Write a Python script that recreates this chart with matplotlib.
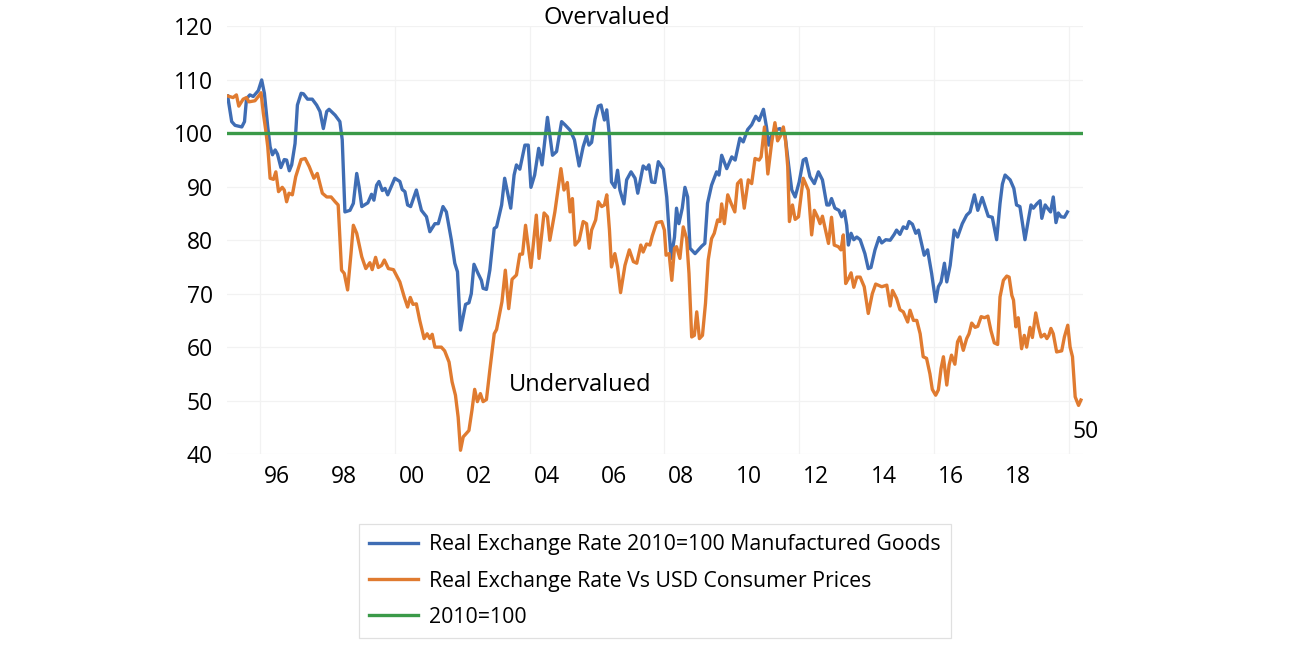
"""
Real exchange rate: manufactured goods vs consumer prices (2010=100)
"""

import matplotlib
matplotlib.use("Agg")
import matplotlib.pyplot as plt

# --- data (decimal year, index value) ---
manuf_t = [1995.04, 1995.16, 1995.26, 1995.46, 1995.54, 1995.6, 1995.7, 1995.8, 1995.95,
           1996.05, 1996.13, 1996.23, 1996.3, 1996.37, 1996.45, 1996.52, 1996.62, 1996.72,
           1996.79, 1996.87, 1996.94, 1997.04, 1997.11, 1997.22, 1997.29, 1997.41, 1997.55,
           1997.68, 1997.78, 1997.88, 1997.98, 1998.05, 1998.23, 1998.37, 1998.44, 1998.52,
           1998.67, 1998.77, 1998.87, 1998.94, 1999.02, 1999.2, 1999.31, 1999.38, 1999.46,
           1999.53, 1999.63, 1999.71, 1999.79, 1999.91, 2000.0, 2000.15, 2000.22, 2000.3,
           2000.38, 2000.47, 2000.64, 2000.79, 2000.94, 2001.04, 2001.19, 2001.29, 2001.43,
           2001.53, 2001.68, 2001.78, 2001.86, 2001.95, 2002.1, 2002.2, 2002.27, 2002.35,
           2002.47, 2002.57, 2002.62, 2002.72, 2002.82, 2002.95, 2003.02, 2003.17, 2003.26,
           2003.44, 2003.54, 2003.61, 2003.71, 2003.86, 2003.96, 2004.04, 2004.15, 2004.27,
           2004.37, 2004.53, 2004.68, 2004.8, 2004.95, 2005.05, 2005.2, 2005.33, 2005.47,
           2005.59, 2005.69, 2005.76, 2005.84, 2005.94, 2006.04, 2006.12, 2006.22, 2006.29,
           2006.37, 2006.43, 2006.53, 2006.61, 2006.68, 2006.8, 2006.88, 2007.01, 2007.13,
           2007.21, 2007.37, 2007.47, 2007.54, 2007.62, 2007.72, 2007.82, 2007.97, 2008.07,
           2008.14, 2008.2, 2008.3, 2008.36, 2008.43, 2008.53, 2008.61, 2008.69, 2008.76,
           2008.91, 2009.11, 2009.2, 2009.28, 2009.4, 2009.55, 2009.62, 2009.7, 2009.85,
           2010.0, 2010.1, 2010.24, 2010.34, 2010.47, 2010.59, 2010.71, 2010.81, 2010.94,
           2011.03, 2011.1, 2011.18, 2011.28, 2011.43, 2011.5, 2011.58, 2011.68, 2011.78,
           2011.88, 2012.0, 2012.12, 2012.2, 2012.32, 2012.45, 2012.57, 2012.69, 2012.82,
           2012.89, 2012.96, 2013.06, 2013.18, 2013.26, 2013.34, 2013.41, 2013.46, 2013.54,
           2013.62, 2013.71, 2013.81, 2013.95, 2014.05, 2014.13, 2014.25, 2014.37, 2014.45,
           2014.57, 2014.7, 2014.82, 2014.89, 2014.99, 2015.09, 2015.19, 2015.26, 2015.36,
           2015.46, 2015.54, 2015.63, 2015.71, 2015.81, 2015.93, 2016.05, 2016.13, 2016.21,
           2016.31, 2016.38, 2016.48, 2016.6, 2016.7, 2016.84, 2016.97, 2017.07, 2017.2,
           2017.3, 2017.43, 2017.61, 2017.73, 2017.86, 2017.96, 2018.03, 2018.11, 2018.26,
           2018.37, 2018.45, 2018.55, 2018.7, 2018.8, 2018.88, 2018.95, 2019.05, 2019.15,
           2019.2, 2019.3, 2019.37, 2019.46, 2019.54, 2019.62, 2019.69, 2019.77, 2019.87,
           2019.96]
manuf_v = [107, 102.2, 101.5, 101.2, 102.2, 106.5, 107.2, 106.9, 108,
           110, 107.5, 101.2, 97.5, 96, 96.9, 96.1, 93.6, 95.1,
           95, 93, 94.1, 98.1, 105.3, 107.5, 107.4, 106.4, 106.4,
           105.3, 104.1, 100.9, 104.1, 104.5, 103.4, 102.2, 98.8, 85.3,
           85.6, 86.9, 92.5, 90, 86.3, 87, 88.6, 87.5, 90.3,
           91, 89.3, 89.7, 88.5, 90.3, 91.6, 91, 89.5, 89.1,
           86.6, 86.3, 89.4, 85.6, 84.4, 81.6, 83.1, 83.1, 86.3,
           85.3, 80, 75.7, 74.1, 63.2, 68, 68.3, 70, 75.5,
           73.8, 72.5, 71, 70.8, 74.4, 82.2, 82.5, 86.6, 91.6,
           86, 92.2, 94.1, 93.3, 97.8, 97.8, 89.9, 92.2, 97.2,
           94.1, 103, 95.9, 96.6, 102.2, 101.6, 100.6, 98.8, 93.9,
           97.5, 99.5, 97.8, 98.3, 102.6, 105.1, 105.3, 102.5, 104.4,
           99.4, 90.9, 89.9, 93.1, 89.4, 86.8, 91.3, 92.8, 91.6,
           88.8, 93.9, 93.3, 94.1, 90.9, 90.8, 94.7, 93.3, 88.1,
           81.6, 76.6, 80.6, 86, 83.1, 86, 89.9, 88.1, 78.5,
           77.5, 78.9, 79.4, 86.9, 90.3, 92.8, 92.2, 95.9, 93.4,
           95.6, 95, 99.1, 98.4, 100.7, 101.6, 103.2, 102.4, 104.5,
           101.2, 97.8, 99.5, 100.6, 100.9, 100.3, 99.7, 94.4, 89.4,
           88.1, 90.9, 95, 95.3, 91.9, 90.6, 92.8, 91.3, 86.6,
           86.6, 87.8, 86, 85.6, 84.4, 85.5, 82.8, 79.1, 81.3,
           80.1, 80.6, 80.1, 77.5, 74.7, 74.9, 78.2, 80.5, 79.5,
           80.1, 80, 81.1, 81.9, 81.1, 82.5, 82.2, 83.5, 83,
           81.3, 81.9, 79.4, 77.2, 78.2, 73.8, 68.5, 71.3, 72.2,
           75.7, 72.2, 75.3, 81.9, 80.6, 83.1, 84.7, 85.3, 88.5,
           85.6, 88, 84.5, 84.3, 80.1, 86.9, 90.5, 92.2, 91.3,
           89.7, 86.6, 86.3, 80.1, 83.8, 86.6, 86, 86.8, 87.4,
           84.1, 86.6, 86, 85.3, 88.1, 83.3, 85.1, 84.4, 84.3,
           85.3]

cpi_t = [1995.04, 1995.2, 1995.3, 1995.37, 1995.5, 1995.6, 1995.67, 1995.85, 1995.95,
         1996.03, 1996.1, 1996.17, 1996.23, 1996.3, 1996.4, 1996.47, 1996.55, 1996.66,
         1996.72, 1996.79, 1996.86, 1996.96, 1997.06, 1997.22, 1997.34, 1997.46, 1997.6,
         1997.7, 1997.85, 1997.98, 1998.11, 1998.23, 1998.32, 1998.42, 1998.5, 1998.6,
         1998.7, 1998.77, 1998.87, 1999.02, 1999.14, 1999.26, 1999.33, 1999.43, 1999.51,
         1999.61, 1999.69, 1999.81, 1999.96, 2000.15, 2000.28, 2000.38, 2000.46, 2000.54,
         2000.64, 2000.74, 2000.87, 2000.96, 2001.04, 2001.11, 2001.19, 2001.38, 2001.48,
         2001.61, 2001.7, 2001.8, 2001.88, 2001.95, 2002.03, 2002.2, 2002.29, 2002.37,
         2002.45, 2002.54, 2002.62, 2002.72, 2002.82, 2002.95, 2003.02, 2003.18, 2003.28,
         2003.38, 2003.48, 2003.61, 2003.71, 2003.79, 2003.88, 2004.04, 2004.2, 2004.28,
         2004.43, 2004.53, 2004.6, 2004.75, 2004.93, 2005.02, 2005.12, 2005.2, 2005.27,
         2005.35, 2005.47, 2005.59, 2005.69, 2005.77, 2005.84, 2005.96, 2006.04, 2006.14,
         2006.22, 2006.29, 2006.37, 2006.43, 2006.53, 2006.61, 2006.7, 2006.83, 2006.96,
         2007.08, 2007.18, 2007.3, 2007.37, 2007.47, 2007.57, 2007.64, 2007.77, 2007.92,
         2008.0, 2008.05, 2008.14, 2008.22, 2008.3, 2008.36, 2008.46, 2008.56, 2008.66,
         2008.73, 2008.81, 2008.89, 2008.96, 2009.04, 2009.13, 2009.22, 2009.3, 2009.4,
         2009.48, 2009.58, 2009.65, 2009.7, 2009.78, 2009.88, 2009.98, 2010.09, 2010.17,
         2010.27, 2010.37, 2010.49, 2010.59, 2010.69, 2010.81, 2010.87, 2010.97, 2011.07,
         2011.18, 2011.28, 2011.36, 2011.46, 2011.53, 2011.6, 2011.66, 2011.71, 2011.8,
         2011.88, 2011.98, 2012.12, 2012.27, 2012.37, 2012.45, 2012.55, 2012.62, 2012.69,
         2012.77, 2012.87, 2012.96, 2013.04, 2013.16, 2013.24, 2013.31, 2013.38, 2013.46,
         2013.54, 2013.62, 2013.71, 2013.81, 2013.93, 2014.05, 2014.17, 2014.27, 2014.45,
         2014.6, 2014.7, 2014.77, 2014.89, 2014.99, 2015.09, 2015.22, 2015.29, 2015.39,
         2015.49, 2015.59, 2015.68, 2015.78, 2015.88, 2015.95, 2016.05, 2016.13, 2016.21,
         2016.28, 2016.38, 2016.45, 2016.52, 2016.62, 2016.7, 2016.77, 2016.87, 2016.97,
         2017.04, 2017.12, 2017.22, 2017.3, 2017.4, 2017.5, 2017.6, 2017.69, 2017.79,
         2017.89, 2017.96, 2018.06, 2018.16, 2018.23, 2018.31, 2018.36, 2018.43, 2018.5,
         2018.6, 2018.68, 2018.75, 2018.85, 2018.92, 2019.02, 2019.1, 2019.18, 2019.28,
         2019.35, 2019.41, 2019.47, 2019.54, 2019.64, 2019.79, 2019.87, 2019.97, 2020.04,
         2020.11, 2020.19, 2020.29, 2020.36]
cpi_v = [107, 106.7, 107.2, 105.1, 106.4, 106.7, 105.9, 106.1, 106.9,
         107.6, 103.7, 100.6, 97.5, 91.6, 91.4, 92.8, 89.1, 89.9,
         89.4, 87.2, 88.8, 88.5, 91.9, 95.1, 95.3, 93.8, 91.6,
         92.5, 88.8, 88.1, 88.1, 87.2, 86.6, 74.4, 73.8, 70.7,
         77.5, 82.8, 81.3, 76.9, 74.7, 75.8, 74.5, 76.8, 74.9,
         75.3, 76.3, 74.7, 74.5, 72.2, 69.4, 67.5, 69.3, 68,
         68.1, 65, 61.6, 62.5, 61.6, 62.4, 60, 60, 59.3,
         57.2, 53.5, 51, 46.9, 40.7, 43.2, 44.4, 48.2, 52.1,
         49.8, 51.3, 49.8, 50.2, 55.7, 62.5, 63.3, 68.5, 74.4,
         67.2, 72.7, 73.5, 77.4, 77.4, 82.8, 74.9, 84.7, 76.6,
         85.1, 84.4, 80, 85.3, 93.4, 89.4, 90.8, 85.3, 87.8,
         79.1, 80, 83.5, 83.1, 78.5, 81.9, 83.8, 87.2, 86.3,
         86.6, 88.5, 81.9, 75, 77.5, 75, 70.2, 75.3, 78.2,
         76, 75.7, 79.1, 77.8, 79.3, 79.1, 80.8, 83.3, 83.5,
         81.9, 77.2, 77.5, 72.5, 78.5, 78.8, 76.6, 82.5, 80.3,
         73.8, 61.9, 62.2, 66.6, 61.6, 62.2, 68.2, 76.3, 80.3,
         81.3, 83.8, 83.5, 86.8, 83.1, 88.5, 86.9, 85.3, 90.6,
         91.3, 86, 91.3, 90.6, 95.3, 95, 95.6, 101.2, 92.4,
         98.1, 102, 98.6, 99.7, 101.2, 98.4, 93.8, 83.5, 86.6,
         83.9, 84.4, 91.6, 89.4, 81, 85.6, 84.3, 83.1, 84.5,
         82.2, 79.4, 84.3, 79.1, 78.8, 78.2, 81, 71.9, 72.8,
         73.9, 71.2, 73.1, 73.1, 71.3, 66.3, 70, 71.8, 71.3,
         71.6, 67.7, 70.6, 69.1, 67, 66.6, 64.7, 66.9, 65,
         65, 62.5, 58.2, 57.9, 55, 52.1, 51, 52, 56,
         58.2, 52.9, 56.7, 58.5, 56.8, 61, 61.9, 59.4, 61.6,
         62.5, 64.5, 63.7, 63.9, 65.7, 65.5, 65.8, 63.1, 60.8,
         60.5, 69.4, 72.5, 73.3, 73.1, 69.7, 68.8, 63.8, 65.5,
         59.7, 62.2, 60, 63.7, 61.8, 66.4, 63.8, 61.9, 62.4,
         61.6, 62.2, 63.5, 62.5, 59.1, 59.3, 61.9, 64.1, 60,
         58.2, 50.7, 49.1, 50.1]

base_t = [1995.05, 2020.36]
base_v = [100, 100]

year_labels = ['96', '98', '00', '02', '04', '06', '08', '10', '12', '14', '16', '18']
label_pos = [1996.5 + 2 * i for i in range(len(year_labels))]
grid_pos = [1996, 2000, 2004, 2008, 2012, 2016, 2020]

plt.rcParams['font.family'] = ['Open Sans', 'DejaVu Sans']

fig = plt.figure(figsize=(13.12, 6.46), dpi=100)
ax = fig.add_axes([0.1730, 0.2972, 0.6524, 0.6618])

ax.plot(manuf_t, manuf_v, color='#3F6DB4', lw=2.4,
        label='Real Exchange Rate 2010=100 Manufactured Goods')
ax.plot(cpi_t, cpi_v, color='#E07B30', lw=2.4,
        label='Real Exchange Rate Vs USD Consumer Prices')
ax.plot(base_t, base_v, color='#3A9A48', lw=2.4, label='2010=100')

ax.set_xlim(1995.02, 2020.42)
ax.set_ylim(40, 120)
ax.set_yticks(range(40, 121, 10))
ax.set_xticks(label_pos, year_labels)
ax.set_xticks(grid_pos, minor=True)
ax.tick_params(axis='both', which='both', length=0, labelsize=16.5)
ax.tick_params(axis='y', pad=10)
ax.tick_params(axis='x', pad=8)
ax.grid(axis='y', which='major', color='#f2f2f2', lw=0.9)
ax.grid(axis='x', which='minor', color='#f2f2f2', lw=0.9)
ax.set_axisbelow(True)
for s in ax.spines.values():
    s.set_visible(False)

ax.text(2006.3, 121.6, 'Overvalued', fontsize=17, ha='center', va='center', clip_on=False)
ax.text(2005.5, 53.0, 'Undervalued', fontsize=17, ha='center', va='center')
ax.text(2020.5, 44.1, '50', fontsize=16.5, ha='center', va='center', clip_on=False)

leg = fig.legend(loc='center', bbox_to_anchor=(0.499, 0.1006), fontsize=15.3,
                 frameon=True, fancybox=False, handlelength=2.3, handletextpad=0.5,
                 labelspacing=0.72, borderpad=0.5, borderaxespad=0)
leg.get_frame().set_edgecolor('#d9d9d9')
leg.get_frame().set_linewidth(0.9)

fig.savefig('out.png', dpi=100)
